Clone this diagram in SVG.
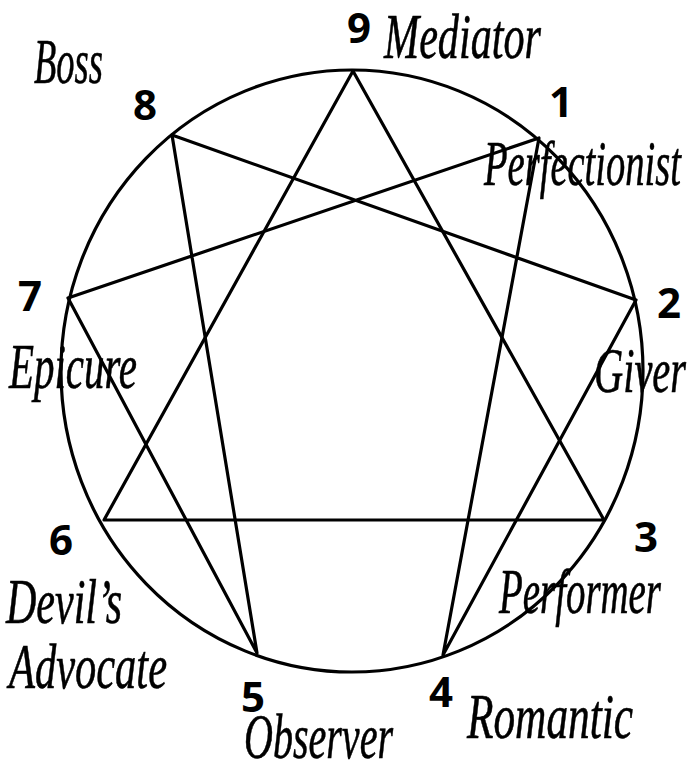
<svg xmlns="http://www.w3.org/2000/svg" width="692" height="776" viewBox="0 0 692 776">
<style>
.ln{stroke:#000;stroke-width:3.2;fill:none;stroke-linecap:round;stroke-linejoin:round}
.num{font-family:"Open Sans","DejaVu Sans",sans-serif;font-weight:bold;font-size:42px;fill:#000;text-anchor:middle}
.lbl{font-family:"Liberation Serif","DejaVu Serif",serif;font-style:italic;font-size:64px;fill:#000;stroke:#000;stroke-width:0.6}
</style>
<rect width="692" height="776" fill="#fff"/>
<ellipse id="circle" class="ln" cx="352" cy="371" rx="291" ry="301"/>
<g id="connectors" class="ln">
<polygon points="353,71 604,520 104,520"/>
<polygon points="539,138 443,655 636,300 172,135 257,653 68,298"/>
</g>
<g id="n9"><text class="num" x="359" y="43">9</text><text class="lbl" x="384" y="58" textLength="157" lengthAdjust="spacingAndGlyphs">Mediator</text></g>
<g id="n1"><text class="num" x="561" y="117">1</text><text class="lbl" x="484" y="185" textLength="197" lengthAdjust="spacingAndGlyphs">Perfectionist</text></g>
<g id="n2"><text class="num" x="669" y="318">2</text><text class="lbl" x="594" y="392" textLength="92" lengthAdjust="spacingAndGlyphs">Giver</text></g>
<g id="n3"><text class="num" x="646" y="552">3</text><text class="lbl" x="499" y="613" textLength="162" lengthAdjust="spacingAndGlyphs">Performer</text></g>
<g id="n4"><text class="num" x="441" y="707">4</text><text class="lbl" x="467" y="738" textLength="166" lengthAdjust="spacingAndGlyphs">Romantic</text></g>
<g id="n5"><text class="num" x="253" y="712">5</text><text class="lbl" x="244" y="758" textLength="149" lengthAdjust="spacingAndGlyphs">Observer</text></g>
<g id="n6"><text class="num" x="61" y="555">6</text><text class="lbl" x="6" y="623" textLength="116" lengthAdjust="spacingAndGlyphs">Devil’s</text><text class="lbl" x="9" y="688" textLength="158" lengthAdjust="spacingAndGlyphs">Advocate</text></g>
<g id="n7"><text class="num" x="30" y="311">7</text><text class="lbl" x="9" y="388" textLength="128" lengthAdjust="spacingAndGlyphs">Epicure</text></g>
<g id="n8"><text class="num" x="145" y="120">8</text><text class="lbl" x="34" y="83" textLength="69" lengthAdjust="spacingAndGlyphs">Boss</text></g>
</svg>
